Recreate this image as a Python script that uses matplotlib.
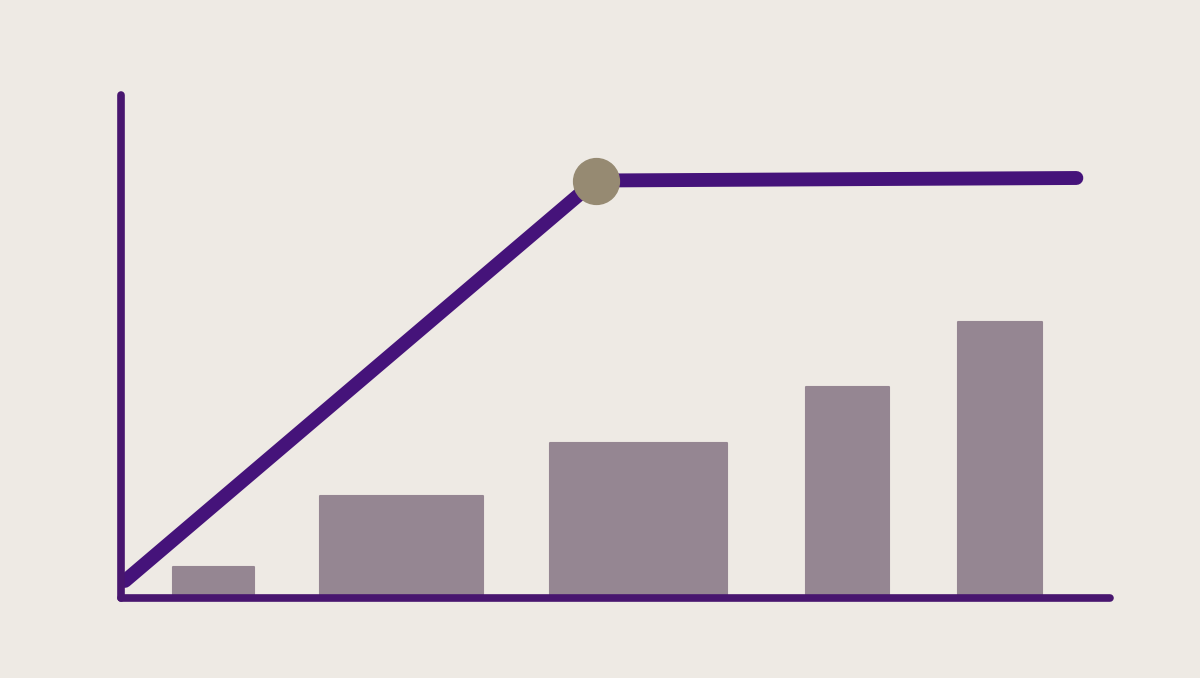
import matplotlib.pyplot as plt

# bar data (x centre, width, height) in axis units 0..100
bar_x = [9.35, 28.35, 52.3, 73.45, 88.9]
bar_w = [8.2, 16.5, 17.9, 8.4, 8.5]
bar_h = [6.2, 20.3, 30.8, 42.0, 54.9]

# line data: rises then plateaus
line_x = [0.4, 48.0, 96.6]
line_y = [3.4, 83.0, 83.5]
# highlighted point
point_x = [48.0]
point_y = [83.0]

bg = '#EEEAE4'
purple = '#45137A'
axis_col = '#48166F'
bar_col = '#958692'
dot_col = '#968A72'

fig = plt.figure(figsize=(12, 6.78), dpi=100)
fig.patch.set_facecolor(bg)
ax = fig.add_axes([121 / 1200, 80 / 678, 989 / 1200, 503 / 678])
ax.set_facecolor(bg)

ax.bar(bar_x, bar_h, width=bar_w, color=bar_col, edgecolor=bar_col,
       linewidth=1.5, joinstyle='round', zorder=2)
ax.plot(line_x, line_y, color=purple, lw=10, solid_capstyle='round',
        solid_joinstyle='round', zorder=3, clip_on=False)
ax.plot(point_x, point_y, 'o', color=dot_col, markersize=33, zorder=4,
        clip_on=False)

ax.set_xlim(0, 100)
ax.set_ylim(0, 100)
for s in ['top', 'right']:
    ax.spines[s].set_visible(False)
for s in ['left', 'bottom']:
    ax.spines[s].set_color(axis_col)
    ax.spines[s].set_linewidth(5.5)
    ax.spines[s].set_capstyle('round')
    ax.spines[s].set_zorder(5)
ax.set_xticks([])
ax.set_yticks([])

fig.savefig('out.png', dpi=100, facecolor=bg)
